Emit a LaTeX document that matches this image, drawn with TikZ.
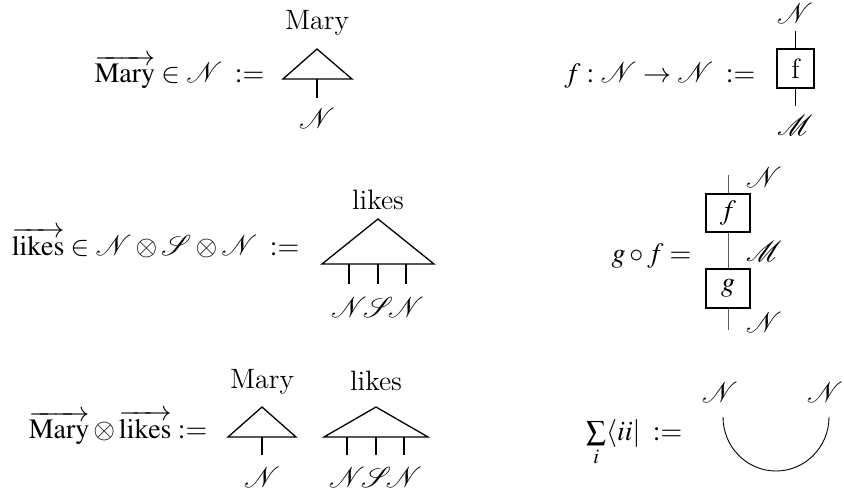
\documentclass[tikz,border=0pt]{standalone}
\usepackage{mathptmx}
\usepackage{mathrsfs}
\begin{document}
\begin{tikzpicture}[x=0.5pt,y=-0.5pt, line width=0.65pt, font=\fontsize{14}{16}\selectfont,
  lbl/.style={inner sep=0pt},
  eq/.style={inner sep=0pt, anchor=base east},
  fbox/.style={draw, line width=0.65pt, inner sep=0pt},
  gwire/.style={draw=black!65, line width=0.45pt}]
\useasboundingbox (0,0) rectangle (844,489);

% ---------- Row 1 left: Mary ----------
\node[eq] (e1) at (265,82) {$\overrightarrow{\mathrm{Mary}}\in\mathscr{N}\;:=$};
\coordinate (t1a) at (317,49);
\coordinate (t1l) at (283,79);
\coordinate (t1r) at (352,79);
\coordinate (t1b) at (317,79);
\coordinate (t1s) at (317,98);
\draw (t1l) -- (t1a) -- (t1r) -- cycle;
\draw (t1b) -- (t1s);
\node[lbl, anchor=base] (t1w) at (317,29) {Mary};
\node[lbl] (t1n) at (317,118) {$\mathscr{N}$};

% ---------- Row 1 right: f ----------
\node[eq] (e2) at (756,82) {$f:\mathscr{N}\to\mathscr{N}\;:=$};
\node[fbox, minimum width=18.5pt, minimum height=19.5pt] (bf) at (795.5,68.5) {f};
\coordinate (w2t) at (795.5,31);
\coordinate (w2b) at (795.5,106);
\draw (w2t) -- (bf.north);
\draw (bf.south) -- (w2b);
\node[lbl] (n2t) at (795,13) {$\mathscr{N}$};
\node[lbl] (m2b) at (795,125) {$\mathscr{M}$};

% ---------- Row 2 left: likes ----------
\node[eq] (e3) at (300,255) {$\overrightarrow{\mathrm{likes}}\in\mathscr{N}\otimes\mathscr{S}\otimes\mathscr{N}\;:=$};
\coordinate (t2a) at (378,219);
\coordinate (t2l) at (322,264);
\coordinate (t2r) at (434,264);
\draw (t2l) -- (t2a) -- (t2r) -- cycle;
\node[lbl, anchor=base] (t2w) at (378,209) {likes};
\foreach \x/\s/\nm in {349/N/a,378/S/b,406/N/c}{
  \coordinate (t2\nm u) at (\x,264);
  \coordinate (t2\nm d) at (\x,284);
  \draw (t2\nm u) -- (t2\nm d);
  \node[lbl] (t2\nm n) at (\x,307) {$\mathscr{\s}$};
}

% ---------- Row 2 right: g o f ----------
\node[eq] (e4) at (692,262) {$g\circ f=$};
\node[fbox, minimum width=22pt, minimum height=19pt] (bf2) at (728,213) {$f$};
\node[fbox, minimum width=22pt, minimum height=19.5pt] (bg2) at (728,288.5) {$g$};
\coordinate (w4t) at (728,175);
\coordinate (w4b) at (728,330);
\draw[gwire] (w4t) -- (bf2.north);
\draw[gwire] (bf2.south) -- (bg2.north);
\draw[gwire] (bg2.south) -- (w4b);
\node[lbl] (n4t) at (764,177) {$\mathscr{N}$};
\node[lbl] (m4m) at (764,251) {$\mathscr{M}$};
\node[lbl] (n4b) at (764,322) {$\mathscr{N}$};

% ---------- Row 3 left: Mary (x) likes ----------
\node[eq] (e5) at (208,438) {$\overrightarrow{\mathrm{Mary}}\otimes\overrightarrow{\mathrm{likes}}:=$};
\coordinate (t3a) at (262,407);
\coordinate (t3l) at (228,437);
\coordinate (t3r) at (296,437);
\coordinate (t3b) at (262,437);
\coordinate (t3s) at (262,455);
\draw (t3l) -- (t3a) -- (t3r) -- cycle;
\draw (t3b) -- (t3s);
\node[lbl, anchor=base] (t3w) at (262,388) {Mary};
\node[lbl] (t3n) at (262,477) {$\mathscr{N}$};
\coordinate (t4a) at (376,407);
\coordinate (t4l) at (324,437);
\coordinate (t4r) at (428,437);
\draw (t4l) -- (t4a) -- (t4r) -- cycle;
\node[lbl, anchor=base] (t4w) at (376,390) {likes};
\foreach \x/\s/\nm in {347/N/a,376/S/b,404/N/c}{
  \coordinate (t4\nm u) at (\x,437);
  \coordinate (t4\nm d) at (\x,455);
  \draw (t4\nm u) -- (t4\nm d);
  \node[lbl] (t4\nm n) at (\x,477) {$\mathscr{\s}$};
}

% ---------- Row 3 right: cup ----------
\node[eq] (e6) at (683,440) {$\sum\limits_i\langle ii|\;:=$};
\coordinate (c6l) at (723,417);
\coordinate (c6r) at (829,417);
\draw[line width=0.45pt] (c6l) arc[start angle=180, end angle=0, x radius=53, y radius=54];
\node[lbl] (n6l) at (720,392) {$\mathscr{N}$};
\node[lbl] (n6r) at (825,392) {$\mathscr{N}$};
\end{tikzpicture}
\end{document}
